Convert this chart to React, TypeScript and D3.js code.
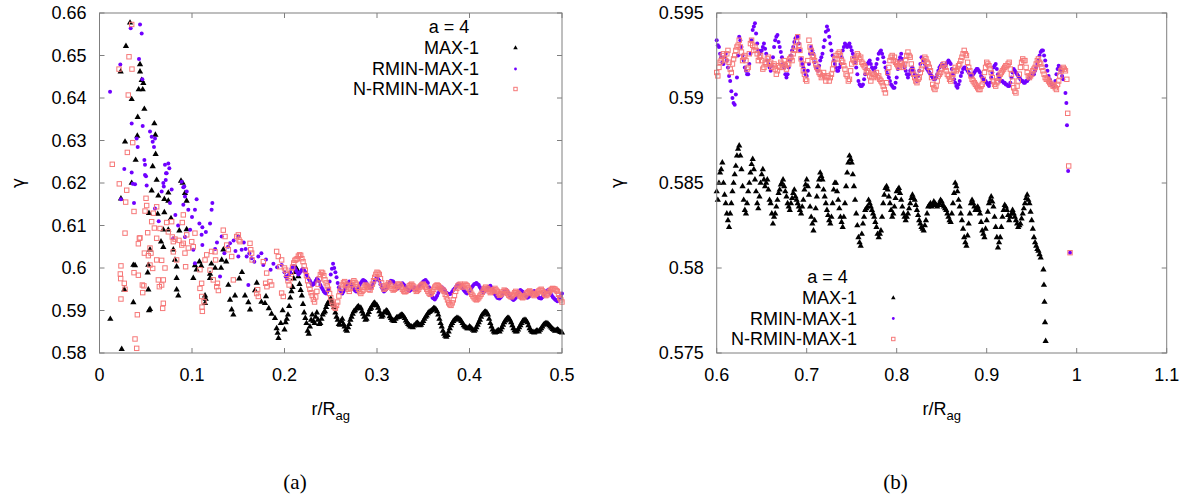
import React from "react";
import * as d3 from "d3";

type Pt = [number, number];

// ---------------- Panel (a) data ----------------
const xTicksA = [0, 0.1, 0.2, 0.3, 0.4, 0.5];
const yTicksA = [0.58, 0.59, 0.6, 0.61, 0.62, 0.63, 0.64, 0.65, 0.66];
const tailStartA = 0.2;
const tailStepA = 0.0025;

const max1AEarly: Pt[] = [
  [0.0117,0.5880],[0.0229,0.6462],[0.0232,0.6163],[0.0240,0.5809],[0.0268,0.5949],[0.0276,0.6297],[0.0286,0.6522],
  [0.0330,0.6577],[0.0348,0.6397],[0.0348,0.6200],[0.0366,0.6007],[0.0384,0.6006],[0.0366,0.5919],[0.0391,0.6254],
  [0.0409,0.6311],[0.0413,0.6355],[0.0424,0.6420],[0.0438,0.6479],[0.0438,0.6462],[0.0456,0.6442],[0.0467,0.6420],
  [0.0474,0.6435],[0.0485,0.6374],[0.0521,0.5989],[0.0528,0.6007],[0.0528,0.5949],[0.0535,0.5900],[0.0546,0.5903],
  [0.0546,0.6043],[0.0535,0.6129],[0.0564,0.6182],[0.0575,0.6239],[0.0593,0.6340],[0.0604,0.6313],[0.0607,0.6268],
  [0.0618,0.6207],[0.0629,0.6127],[0.0636,0.6170],[0.0665,0.6062],[0.0690,0.6049],[0.0690,0.6090],[0.0701,0.6162],
  [0.0701,0.6131],[0.0744,0.6158],[0.0744,0.6177],[0.0744,0.6090],[0.0773,0.6117],[0.0798,0.6043],[0.0816,0.6019],
  [0.0834,0.6003],[0.0834,0.5976],[0.0834,0.5949],[0.0852,0.5935],[0.0863,0.6088],[0.0881,0.6205],[0.0899,0.6200],
  [0.0924,0.6176],[0.0942,0.6158],[0.0942,0.6091],[0.1014,0.5976],[0.1032,0.6006],[0.1050,0.5996],[0.1080,0.6015],
  [0.1100,0.6005],[0.1141,0.5935],[0.1148,0.5927],[0.1141,0.5917],[0.1195,0.5976],[0.1195,0.5986],[0.1210,0.6010],
  [0.1250,0.6000],[0.1314,0.6000],[0.1321,0.6019],[0.1339,0.6043],[0.1370,0.6015],[0.1393,0.5960],[0.1411,0.5925],
  [0.1429,0.5902],[0.1447,0.5890],[0.1465,0.5935],[0.1510,0.5975],[0.1540,0.5990],[0.1573,0.5935],[0.1609,0.5919],
  [0.1627,0.5902],[0.1681,0.5947],[0.1700,0.5965],[0.1750,0.5920],[0.1789,0.5917],[0.1800,0.5933],[0.1830,0.5905],
  [0.1860,0.5892],[0.1897,0.5882],[0.1915,0.5858],[0.1926,0.5847],[0.1935,0.5835],[0.1960,0.5870],[0.1980,0.5900],
];
const max1ATail: number[] = [
  0.5855,0.5880,0.5910,0.5945,0.5975,0.6000,0.5980,0.5948,0.5915,0.5882,
  0.5852,0.5862,0.5890,0.5870,0.5895,0.5868,0.5880,0.5895,0.5908,0.5920,
  0.5928,0.5915,0.5895,0.5878,0.5866,0.5880,0.5862,0.5852,0.5868,0.5885,
  0.5898,0.5904,0.5910,0.5906,0.5892,0.5878,0.5890,0.5903,0.5912,0.5918,
  0.5912,0.5898,0.5885,0.5895,0.5900,0.5893,0.5882,0.5876,0.5880,0.5884,
  0.5888,0.5889,0.5882,0.5872,0.5865,0.5862,0.5864,0.5870,0.5868,0.5866,
  0.5875,0.5885,0.5893,0.5898,0.5902,0.5905,0.5898,0.5880,0.5862,0.5845,
  0.5838,0.5850,0.5865,0.5875,0.5880,0.5882,0.5878,0.5870,0.5862,0.5858,
  0.5862,0.5857,0.5852,0.5860,0.5872,0.5885,0.5893,0.5897,0.5890,0.5870,
  0.5855,0.5848,0.5852,0.5850,0.5860,0.5872,0.5880,0.5882,0.5872,0.5858,
  0.5850,0.5855,0.5865,0.5875,0.5878,0.5872,0.5858,0.5850,0.5848,0.5852,
  0.5850,0.5858,0.5866,0.5870,0.5868,0.5862,0.5856,0.5852,0.5855,0.5850,
  0.5848,
];
// second reading of the same dense band, half a step further along r
const max1ATailMid: number[] = [
  0.5872,0.5890,0.5930,0.5955,0.5990,0.5995,0.5962,0.5935,0.5895,0.5870,
  0.5845,0.5878,0.5875,0.5885,0.5878,0.5870,0.5890,0.5898,0.5915,0.5922,
  0.5920,0.5908,0.5885,0.5868,0.5875,0.5868,0.5855,0.5860,0.5878,0.5892,
  0.5900,0.5908,0.5905,0.5898,0.5885,0.5880,0.5896,0.5906,0.5916,0.5914,
  0.5906,0.5890,0.5888,0.5896,0.5898,0.5886,0.5878,0.5875,0.5883,0.5885,
  0.5890,0.5886,0.5876,0.5868,0.5862,0.5860,0.5866,0.5871,0.5865,0.5870,
  0.5880,0.5888,0.5896,0.5900,0.5905,0.5902,0.5890,0.5870,0.5852,0.5840,
  0.5842,0.5858,0.5870,0.5878,0.5882,0.5880,0.5875,0.5865,0.5860,0.5858,
  0.5860,0.5854,0.5855,0.5866,0.5878,0.5890,0.5896,0.5895,0.5880,0.5862,
  0.5850,0.5849,0.5853,0.5855,0.5866,0.5876,0.5882,0.5878,0.5865,0.5853,
  0.5851,0.5860,0.5870,0.5877,0.5876,0.5865,0.5853,0.5849,0.5850,0.5852,
  0.5854,0.5862,0.5868,0.5870,0.5865,0.5859,0.5854,0.5853,0.5853,0.5849,
];

const rminAEarly: Pt[] = [
  [0.0114,0.6415],[0.0225,0.6479],[0.0232,0.6162],[0.0268,0.6233],[0.0337,0.6564],[0.0348,0.6340],[0.0348,0.6225],
  [0.0359,0.6198],[0.0373,0.6153],[0.0384,0.6197],[0.0402,0.6305],[0.0413,0.6285],[0.0427,0.6492],[0.0438,0.6573],
  [0.0456,0.6552],[0.0463,0.6444],[0.0467,0.6334],[0.0485,0.6254],[0.0492,0.6243],[0.0492,0.6219],[0.0503,0.6216],
  [0.0510,0.6194],[0.0546,0.6321],[0.0564,0.6309],[0.0575,0.6297],[0.0589,0.6285],[0.0600,0.6305],[0.0600,0.6140],
  [0.0640,0.6110],[0.0672,0.6180],[0.0690,0.6200],[0.0695,0.6192],[0.0708,0.6243],[0.0716,0.6207],[0.0719,0.6223],
  [0.0726,0.6223],[0.0744,0.6246],[0.0755,0.6235],[0.0762,0.6153],[0.0780,0.6185],[0.0798,0.6070],[0.0820,0.6125],
  [0.0850,0.6100],[0.0889,0.6203],[0.0906,0.6190],[0.0906,0.6149],[0.0917,0.6192],[0.0924,0.6168],[0.0924,0.6073],
  [0.0943,0.6180],[0.0960,0.6137],[0.0980,0.6090],[0.1000,0.6120],[0.1014,0.6043],[0.1032,0.6137],[0.1032,0.6011],
  [0.1050,0.6162],[0.1080,0.6105],[0.1104,0.6078],[0.1112,0.6096],[0.1112,0.6054],[0.1150,0.6085],[0.1195,0.6105],
  [0.1212,0.6137],[0.1220,0.6153],[0.1250,0.6045],[0.1270,0.6060],[0.1303,0.5980],[0.1321,0.6074],[0.1350,0.6035],
  [0.1390,0.6050],[0.1411,0.6058],[0.1450,0.6065],[0.1470,0.6040],[0.1501,0.6074],[0.1501,0.6027],[0.1537,0.6043],
  [0.1560,0.6060],[0.1580,0.6045],[0.1591,0.6027],[0.1609,0.5960],[0.1620,0.6035],[0.1645,0.6023],[0.1674,0.6015],
  [0.1717,0.6027],[0.1750,0.6035],[0.1771,0.6007],[0.1800,0.6020],[0.1850,0.5996],[0.1880,0.6010],[0.1920,0.6002],
  [0.1969,0.6007],
];
const rminATail: number[] = [
  0.5990,0.5975,0.5985,0.5998,0.6005,0.5995,0.5985,0.5992,0.5998,0.5990,
  0.5978,0.5970,0.5960,0.5965,0.5975,0.5968,0.5955,0.5945,0.5940,0.5950,
  0.5985,0.6010,0.5990,0.5965,0.5948,0.5940,0.5950,0.5962,0.5968,0.5960,
  0.5950,0.5945,0.5955,0.5965,0.5972,0.5968,0.5960,0.5952,0.5958,0.5970,
  0.5978,0.5970,0.5955,0.5945,0.5950,0.5962,0.5970,0.5968,0.5960,0.5952,
  0.5958,0.5964,0.5958,0.5950,0.5946,0.5950,0.5955,0.5950,0.5955,0.5962,
  0.5968,0.5972,0.5965,0.5945,0.5930,0.5926,0.5935,0.5948,0.5955,0.5950,
  0.5942,0.5938,0.5940,0.5948,0.5955,0.5962,0.5960,0.5952,0.5945,0.5940,
  0.5945,0.5955,0.5962,0.5965,0.5960,0.5950,0.5942,0.5948,0.5955,0.5958,
  0.5950,0.5938,0.5930,0.5928,0.5935,0.5945,0.5948,0.5940,0.5930,0.5925,
  0.5930,0.5942,0.5948,0.5944,0.5936,0.5930,0.5934,0.5942,0.5946,0.5938,
  0.5930,0.5928,0.5935,0.5945,0.5948,0.5940,0.5932,0.5926,0.5922,0.5930,
  0.5940,
];
const rminATailMid: number[] = [
  0.5980,0.5982,0.5990,0.6002,0.6000,0.5990,0.5988,0.5996,0.5994,0.5984,
  0.5974,0.5965,0.5962,0.5970,0.5972,0.5960,0.5950,0.5942,0.5944,0.5968,
  0.5998,0.6000,0.5978,0.5955,0.5944,0.5945,0.5956,0.5965,0.5964,0.5955,
  0.5947,0.5950,0.5960,0.5969,0.5970,0.5964,0.5956,0.5955,0.5964,0.5974,
  0.5974,0.5962,0.5950,0.5947,0.5956,0.5966,0.5969,0.5964,0.5956,0.5955,
  0.5961,0.5961,0.5954,0.5948,0.5948,0.5952,0.5952,0.5952,0.5958,0.5965,
  0.5970,0.5968,0.5955,0.5937,0.5928,0.5930,0.5941,0.5951,0.5952,0.5946,
  0.5940,0.5939,0.5944,0.5951,0.5958,0.5961,0.5956,0.5948,0.5942,0.5942,
  0.5950,0.5958,0.5963,0.5962,0.5955,0.5946,0.5945,0.5951,0.5956,0.5954,
  0.5944,0.5934,0.5929,0.5931,0.5940,0.5946,0.5944,0.5935,0.5927,0.5927,
  0.5936,0.5945,0.5946,0.5940,0.5933,0.5932,0.5938,0.5944,0.5942,0.5934,
  0.5929,0.5931,0.5940,0.5946,0.5944,0.5936,0.5929,0.5924,0.5926,0.5935,
];

const nrminAEarly: Pt[] = [
  [0.0138,0.6244],[0.0211,0.6468],[0.0214,0.6198],[0.0225,0.5986],[0.0229,0.5975],[0.0232,0.6005],[0.0232,0.5927],
  [0.0268,0.5964],[0.0276,0.6082],[0.0276,0.5950],[0.0283,0.6155],[0.0294,0.6183],[0.0301,0.6272],[0.0311,0.6407],
  [0.0319,0.6497],[0.0348,0.6573],[0.0351,0.6468],[0.0359,0.6295],[0.0373,0.6133],[0.0373,0.5989],[0.0384,0.5833],
  [0.0402,0.5811],[0.0409,0.5890],[0.0420,0.5983],[0.0420,0.6057],[0.0431,0.6070],[0.0438,0.6071],[0.0463,0.5960],
  [0.0467,0.5942],[0.0480,0.5958],[0.0485,0.6035],[0.0492,0.6134],[0.0503,0.6164],[0.0510,0.6147],[0.0521,0.6083],
  [0.0528,0.6029],[0.0546,0.6047],[0.0546,0.6007],[0.0557,0.6035],[0.0564,0.6109],[0.0575,0.5999],[0.0582,0.6129],
  [0.0593,0.6094],[0.0618,0.6144],[0.0618,0.6070],[0.0618,0.6019],[0.0636,0.5972],[0.0647,0.5956],[0.0654,0.6093],
  [0.0672,0.6018],[0.0672,0.5960],[0.0683,0.5905],[0.0690,0.5917],[0.0690,0.5972],[0.0708,0.6000],[0.0726,0.6107],
  [0.0744,0.6085],[0.0780,0.6109],[0.0787,0.6073],[0.0798,0.6062],[0.0798,0.6038],[0.0816,0.6068],[0.0834,0.6019],
  [0.0859,0.6065],[0.0889,0.6054],[0.0895,0.6107],[0.0906,0.6125],[0.0906,0.6058],[0.0924,0.6035],[0.0931,0.6003],
  [0.0943,0.6078],[0.0960,0.6047],[0.0997,0.6062],[0.1014,0.6050],[0.1032,0.6082],[0.1086,0.5996],[0.1086,0.5952],
  [0.1104,0.5964],[0.1105,0.5933],[0.1108,0.5908],[0.1112,0.5898],[0.1130,0.5921],[0.1141,0.6019],[0.1159,0.6031],
  [0.1195,0.5995],[0.1212,0.6039],[0.1230,0.5972],[0.1249,0.6038],[0.1255,0.6019],[0.1267,0.5956],[0.1275,0.5964],
  [0.1285,0.5947],[0.1338,0.6089],[0.1357,0.6074],[0.1375,0.6054],[0.1393,0.6043],[0.1429,0.6027],[0.1447,0.5972],
  [0.1483,0.6074],[0.1501,0.6078],[0.1508,0.6066],[0.1519,0.6062],[0.1627,0.6058],[0.1635,0.6043],[0.1645,0.6035],
  [0.1650,0.6019],[0.1699,0.5940],[0.1710,0.5949],[0.1717,0.5933],[0.1771,0.6015],[0.1796,0.5964],[0.1807,0.5988],
  [0.1810,0.5956],[0.1843,0.5968],[0.1861,0.5960],[0.1915,0.6039],[0.1933,0.6027],[0.1951,0.6003],[0.1969,0.6019],
  [0.1969,0.5941],[0.1987,0.5933],
];
const nrminATail: number[] = [
  0.6000,0.5985,0.5960,0.5990,0.6012,0.6020,0.6028,0.6030,0.6015,0.5995,
  0.5970,0.5950,0.5935,0.5920,0.5945,0.5975,0.5990,0.5982,0.5965,0.5950,
  0.5930,0.5915,0.5905,0.5920,0.5945,0.5960,0.5968,0.5958,0.5945,0.5960,
  0.5970,0.5962,0.5950,0.5940,0.5948,0.5960,0.5955,0.5948,0.5962,0.5978,
  0.5990,0.5985,0.5965,0.5950,0.5955,0.5965,0.5958,0.5948,0.5952,0.5962,
  0.5960,0.5950,0.5944,0.5948,0.5958,0.5962,0.5955,0.5945,0.5950,0.5958,
  0.5962,0.5955,0.5945,0.5938,0.5945,0.5955,0.5960,0.5955,0.5950,0.5945,
  0.5932,0.5918,0.5912,0.5925,0.5945,0.5958,0.5962,0.5955,0.5962,0.5958,
  0.5948,0.5938,0.5930,0.5925,0.5930,0.5938,0.5948,0.5955,0.5950,0.5942,
  0.5946,0.5952,0.5945,0.5936,0.5940,0.5948,0.5944,0.5936,0.5932,0.5938,
  0.5945,0.5940,0.5934,0.5930,0.5935,0.5942,0.5946,0.5940,0.5935,0.5940,
  0.5946,0.5950,0.5942,0.5935,0.5940,0.5948,0.5952,0.5950,0.5945,0.5930,
  0.5920,
];
const nrminATailMid: number[] = [
  0.5995,0.5970,0.5975,0.6002,0.6018,0.6022,0.6031,0.6022,0.6005,0.5982,
  0.5960,0.5942,0.5926,0.5932,0.5962,0.5984,0.5988,0.5972,0.5958,0.5940,
  0.5922,0.5908,0.5912,0.5934,0.5952,0.5965,0.5962,0.5950,0.5952,0.5966,
  0.5966,0.5955,0.5944,0.5945,0.5955,0.5958,0.5950,0.5955,0.5970,0.5985,
  0.5988,0.5975,0.5958,0.5952,0.5960,0.5962,0.5952,0.5950,0.5957,0.5962,
  0.5955,0.5946,0.5945,0.5953,0.5960,0.5958,0.5950,0.5947,0.5955,0.5961,
  0.5958,0.5950,0.5941,0.5941,0.5950,0.5958,0.5958,0.5952,0.5948,0.5938,
  0.5925,0.5914,0.5918,0.5935,0.5952,0.5960,0.5958,0.5958,0.5960,0.5953,
  0.5943,0.5934,0.5927,0.5927,0.5934,0.5943,0.5952,0.5952,0.5946,0.5944,
  0.5949,0.5948,0.5940,0.5938,0.5944,0.5946,0.5940,0.5934,0.5935,0.5942,
  0.5942,0.5937,0.5932,0.5932,0.5939,0.5944,0.5943,0.5937,0.5938,0.5943,
  0.5948,0.5946,0.5938,0.5937,0.5944,0.5950,0.5951,0.5947,0.5938,0.5925,
];

// ---------------- Panel (b) data ----------------
const xTicksB = [0.6, 0.7, 0.8, 0.9, 1, 1.1];
const yTicksB = [0.575, 0.58, 0.585, 0.59, 0.595];
const gridStartB = 0.6;
const gridStepB = 0.0025;

const max1BGrid: number[] = [
  0.5845,0.5850,0.5858,0.5850, 0.5838,0.5828,0.5832,0.5845, 0.5855,0.5866,0.5872,0.5858,
  0.5840,0.5832,0.5845,0.5856, 0.5864,0.5852,0.5838,0.5842, 0.5855,0.5852,0.5850,0.5846,
  0.5838,0.5826,0.5832,0.5840, 0.5846,0.5850,0.5848,0.5842, 0.5836,0.5838,0.5844,0.5842,
  0.5838,0.5834,0.5836,0.5846, 0.5852,0.5843,0.5830,0.5822, 0.5835,0.5848,0.5856,0.5852,
  0.5842,0.5834,0.5828,0.5830, 0.5846,0.5850,0.5840,0.5830, 0.5824,0.5838,0.5856,0.5866,
  0.5862,0.5848,0.5832,0.5818, 0.5813,0.5826,0.5834,0.5836, 0.5838,0.5834,0.5830,0.5824,
  0.5818,0.5822,0.5838,0.5847, 0.5846,0.5838,0.5830,0.5836, 0.5845,0.5847,0.5840,0.5832,
  0.5828,0.5832,0.5838,0.5843, 0.5840,0.5834,0.5828,0.5824, 0.5822,0.5828,0.5836,0.5838,
  0.5837,0.5838,0.5836,0.5838, 0.5839,0.5836,0.5834,0.5830, 0.5827,0.5838,0.5850,0.5845,
  0.5836,0.5828,0.5818,0.5813, 0.5826,0.5838,0.5838,0.5834, 0.5836,0.5832,0.5822,0.5818,
  0.5828,0.5838,0.5842,0.5836, 0.5824,0.5812,0.5818,0.5830, 0.5837,0.5834,0.5828,0.5832,
  0.5832,0.5828,0.5824,0.5826, 0.5832,0.5838,0.5843,0.5838, 0.5828,0.5818,0.5813,0.5810,
  0.5806,
];
const max1BGridMid: number[] = [
  0.5840,0.5856,0.5862,0.5843,0.5832,0.5824,0.5838,0.5850,0.5860,0.5870,0.5866,0.5848,
  0.5834,0.5838,0.5850,0.5861,0.5858,0.5845,0.5835,0.5850,0.5858,0.5848,0.5852,0.5840,
  0.5832,0.5830,0.5836,0.5844,0.5849,0.5852,0.5845,0.5838,0.5834,0.5841,0.5846,0.5840,
  0.5836,0.5832,0.5840,0.5849,0.5848,0.5836,0.5826,0.5828,0.5842,0.5852,0.5854,0.5846,
  0.5838,0.5831,0.5826,0.5838,0.5850,0.5845,0.5835,0.5827,0.5830,0.5848,0.5862,0.5864,
  0.5855,0.5840,0.5825,0.5815,0.5820,0.5830,0.5835,0.5840,0.5836,0.5832,0.5827,0.5820,
  0.5820,0.5830,0.5843,0.5848,0.5842,0.5834,0.5832,0.5841,0.5846,0.5844,0.5836,0.5830,
  0.5830,0.5835,0.5841,0.5841,0.5837,0.5831,0.5826,0.5823,0.5825,0.5832,0.5837,0.5836,
  0.5839,0.5837,0.5837,0.5840,0.5837,0.5835,0.5832,0.5828,0.5832,0.5844,0.5848,0.5840,
  0.5832,0.5823,0.5815,0.5819,0.5832,0.5840,0.5836,0.5835,0.5834,0.5827,0.5820,0.5823,
  0.5833,0.5840,0.5839,0.5830,0.5818,0.5815,0.5824,0.5834,0.5836,0.5831,0.5830,0.5834,
  0.5830,0.5826,0.5825,0.5829,0.5835,0.5841,0.5840,0.5833,0.5823,0.5815,0.5811,0.5808,
];
const max1BDrop: Pt[] = [
  [0.9630,0.5799],[0.9636,0.5790],[0.9642,0.5780],[0.9648,0.5768],[0.9655,0.5757],
];

const rminBGrid: number[] = [
  0.5934,0.5930,0.5924,0.5920, 0.5926,0.5918,0.5910,0.5900, 0.5896,0.5912,0.5936,0.5930,
  0.5922,0.5916,0.5914,0.5926, 0.5940,0.5944,0.5932,0.5926, 0.5928,0.5932,0.5926,0.5920,
  0.5916,0.5924,0.5934,0.5937, 0.5930,0.5924,0.5918,0.5912, 0.5918,0.5925,0.5930,0.5935,
  0.5936,0.5928,0.5920,0.5916, 0.5913,0.5920,0.5930,0.5926, 0.5918,0.5916,0.5922,0.5926,
  0.5934,0.5942,0.5936,0.5928, 0.5922,0.5918,0.5916,0.5920, 0.5928,0.5932,0.5930,0.5932,
  0.5928,0.5924,0.5918,0.5910, 0.5907,0.5908,0.5914,0.5920, 0.5922,0.5918,0.5916,0.5920,
  0.5926,0.5928,0.5924,0.5918, 0.5914,0.5910,0.5907,0.5906, 0.5912,0.5922,0.5926,0.5920,
  0.5916,0.5912,0.5916,0.5918, 0.5914,0.5910,0.5916,0.5924, 0.5922,0.5918,0.5916,0.5914,
  0.5912,0.5911,0.5914,0.5918, 0.5920,0.5918,0.5920,0.5922, 0.5920,0.5914,0.5909,0.5906,
  0.5910,0.5915,0.5918,0.5917, 0.5915,0.5913,0.5914,0.5916, 0.5917,0.5915,0.5912,0.5910,
  0.5909,0.5907,0.5912,0.5918, 0.5920,0.5914,0.5910,0.5910, 0.5909,0.5908,0.5907,0.5912,
  0.5917,0.5915,0.5913,0.5911, 0.5910,0.5909,0.5910,0.5912, 0.5914,0.5914,0.5918,0.5922,
  0.5927,0.5928,0.5922,0.5916, 0.5911,0.5908,0.5907,0.5914, 0.5919,0.5916,0.5911,
];
const rminBGridMid: number[] = [
  0.5931,0.5926,0.5921,0.5924,0.5922,0.5913,0.5904,0.5897,0.5902,0.5925,0.5934,
  0.5925,0.5918,0.5914,0.5920,0.5934,0.5942,0.5938,0.5928,0.5927,0.5930,0.5929,
  0.5922,0.5918,0.5919,0.5930,0.5936,0.5933,0.5927,0.5920,0.5914,0.5914,0.5922,
  0.5928,0.5933,0.5936,0.5932,0.5923,0.5918,0.5914,0.5916,0.5926,0.5928,0.5921,
  0.5917,0.5919,0.5924,0.5930,0.5939,0.5940,0.5932,0.5925,0.5920,0.5916,0.5918,
  0.5924,0.5930,0.5931,0.5931,0.5930,0.5926,0.5921,0.5914,0.5908,0.5907,0.5911,
  0.5917,0.5921,0.5920,0.5917,0.5918,0.5923,0.5927,0.5926,0.5921,0.5916,0.5912,
  0.5908,0.5906,0.5909,0.5917,0.5924,0.5923,0.5918,0.5914,0.5914,0.5917,0.5916,
  0.5912,0.5913,0.5920,0.5923,0.5920,0.5917,0.5915,0.5913,0.5911,0.5912,0.5916,
  0.5919,0.5919,0.5919,0.5921,0.5921,0.5917,0.5911,0.5907,0.5908,0.5913,0.5917,
  0.5918,0.5916,0.5914,0.5913,0.5915,0.5917,0.5916,0.5913,0.5911,0.5910,0.5908,
  0.5909,0.5915,0.5919,0.5917,0.5912,0.5910,0.5909,0.5908,0.5907,0.5909,0.5915,
  0.5916,0.5914,0.5912,0.5910,0.5909,0.5910,0.5911,0.5913,0.5914,0.5916,0.5920,
  0.5925,0.5928,0.5925,0.5919,0.5913,0.5909,0.5907,0.5910,0.5917,0.5918,0.5913,
];
const rminBDrop: Pt[] = [
  [0.9875,0.5903],[0.9885,0.5897],[0.9892,0.5884],[0.9905,0.5857],[0.9926,0.5809],
];

const nrminBGrid: number[] = [
  0.5915,0.5918,0.5922,0.5926, 0.5922,0.5928,0.5917,0.5920, 0.5925,0.5930,0.5934,0.5927,
  0.5924,0.5922,0.5918,0.5932, 0.5931,0.5930,0.5926,0.5924, 0.5922,0.5918,0.5920,0.5924,
  0.5921,0.5919,0.5917,0.5916, 0.5918,0.5920,0.5922,0.5917, 0.5920,0.5924,0.5926,0.5930,
  0.5936,0.5928,0.5920,0.5914, 0.5910,0.5934,0.5928,0.5924, 0.5920,0.5917,0.5914,0.5913,
  0.5913,0.5912,0.5910,0.5914, 0.5920,0.5925,0.5926,0.5925, 0.5921,0.5917,0.5913,0.5911,
  0.5920,0.5922,0.5924,0.5925, 0.5924,0.5920,0.5918,0.5916, 0.5913,0.5912,0.5914,0.5915,
  0.5913,0.5910,0.5907,0.5903, 0.5915,0.5922,0.5925,0.5924, 0.5920,0.5918,0.5921,0.5918,
  0.5922,0.5927,0.5924,0.5916, 0.5912,0.5909,0.5912,0.5917, 0.5922,0.5923,0.5920,0.5916,
  0.5908,0.5905,0.5910,0.5914, 0.5917,0.5920,0.5916,0.5913, 0.5910,0.5914,0.5918,0.5917,
  0.5920,0.5924,0.5928,0.5925, 0.5918,0.5913,0.5910,0.5908, 0.5906,0.5905,0.5908,0.5915,
  0.5921,0.5919,0.5915,0.5910, 0.5907,0.5910,0.5914,0.5916, 0.5918,0.5919,0.5921,0.5914,
  0.5906,0.5903,0.5910,0.5918, 0.5923,0.5922,0.5915,0.5912, 0.5914,0.5917,0.5920,0.5923,
  0.5920,0.5916,0.5912,0.5911, 0.5909,0.5908,0.5907,0.5905, 0.5910,0.5916,0.5918,0.5916,
];
const nrminBGridMid: number[] = [
  0.5913,0.5921,0.5925,0.5923,0.5926,0.5921,0.5915,0.5923,0.5928,0.5931,0.5930,
  0.5922,0.5925,0.5917,0.5926,0.5934,0.5928,0.5928,0.5922,0.5925,0.5917,0.5921,
  0.5923,0.5920,0.5918,0.5920,0.5914,0.5919,0.5921,0.5918,0.5919,0.5920,0.5923,
  0.5922,0.5928,0.5933,0.5931,0.5923,0.5916,0.5911,0.5922,0.5930,0.5925,0.5922,
  0.5918,0.5915,0.5912,0.5915,0.5910,0.5913,0.5912,0.5917,0.5923,0.5923,0.5927,
  0.5922,0.5919,0.5914,0.5910,0.5916,0.5923,0.5921,0.5926,0.5923,0.5921,0.5919,
  0.5915,0.5915,0.5910,0.5914,0.5913,0.5912,0.5911,0.5909,0.5905,0.5909,0.5918,
  0.5924,0.5922,0.5921,0.5919,0.5920,0.5919,0.5920,0.5925,0.5925,0.5920,0.5914,
  0.5910,0.5911,0.5915,0.5919,0.5924,0.5921,0.5918,0.5912,0.5906,0.5907,0.5913,
  0.5915,0.5919,0.5918,0.5914,0.5911,0.5912,0.5916,0.5916,0.5919,0.5922,0.5926,
  0.5926,0.5921,0.5916,0.5911,0.5909,0.5907,0.5905,0.5907,0.5911,0.5918,0.5920,
  0.5917,0.5912,0.5908,0.5909,0.5912,0.5915,0.5917,0.5919,0.5920,0.5917,0.5910,
  0.5904,0.5907,0.5914,0.5921,0.5922,0.5918,0.5913,0.5913,0.5916,0.5918,0.5922,
  0.5921,0.5918,0.5914,0.5911,0.5910,0.5908,0.5907,0.5906,0.5908,0.5913,0.5917,
  0.5917,
];
const nrminBDrop: Pt[] = [
  [0.9890,0.5911],[0.9900,0.5891],[0.9911,0.5860],[0.9926,0.5809],
];

const seriesNames = ["MAX-1", "RMIN-MAX-1", "N-RMIN-MAX-1"];
const legendTitle = "a = 4";

// ---------------- helpers ----------------
function onGrid(start: number, step: number, ys: number[]): Pt[] {
  return ys.map((v, i) => [start + i * step, v] as Pt);
}

const FONT = "'Liberation Sans', Arial, sans-serif";
const SERIF = "'Liberation Serif', 'Times New Roman', serif";
const BORDER = "#7f7f7f";
const C_MAX = "#000000";
const C_RMIN = "#7000ff";
const C_NRMIN = "#f67878";

const triPlot = d3.symbol().type(d3.symbolTriangle).size(17)() as string;
const triKey = d3.symbol().type(d3.symbolTriangle).size(9)() as string;

function Marker({ kind, x, y, small }: { kind: number; x: number; y: number; small?: boolean }) {
  if (kind === 0) {
    return <path d={small ? triKey : triPlot} transform={`translate(${x},${y})`} fill={C_MAX} />;
  }
  if (kind === 1) {
    return <circle cx={x} cy={y} r={small ? 1.4 : 2} fill={C_RMIN} />;
  }
  const s = small ? 3.4 : 4.4;
  return (
    <rect x={x - s / 2} y={y - s / 2} width={s} height={s} fill="none" stroke={C_NRMIN} strokeWidth={1} />
  );
}

interface PanelCfg {
  left: number; right: number; top: number; bottom: number;
  xDomain: [number, number]; yDomain: [number, number];
  xTicks: number[]; yTicks: number[];
  series: Pt[][];
  legend: { titleX: number; titleY: number; textRight: number; rows: number[]; markerX: number };
  ylabelX: number;
  caption: string; captionX: number;
}

function Panel({ cfg }: { cfg: PanelCfg }) {
  const x = d3.scaleLinear().domain(cfg.xDomain).range([cfg.left, cfg.right]);
  const y = d3.scaleLinear().domain(cfg.yDomain).range([cfg.bottom, cfg.top]);
  const fmt = d3.format("~g");
  const tl = 5;
  const cx = (cfg.left + cfg.right) / 2;
  const cy = (cfg.top + cfg.bottom) / 2;
  return (
    <g>
      {cfg.series.map((pts, k) => (
        <g key={k}>
          {pts.map((p, i) => (
            <Marker key={i} kind={k} x={x(p[0])} y={y(p[1])} />
          ))}
        </g>
      ))}
      <rect x={cfg.left} y={cfg.top} width={cfg.right - cfg.left} height={cfg.bottom - cfg.top}
        fill="none" stroke={BORDER} strokeWidth={1} />
      {cfg.xTicks.map((t, i) => (
        <g key={"xt" + i}>
          <line x1={x(t)} x2={x(t)} y1={cfg.bottom} y2={cfg.bottom - tl} stroke={BORDER} />
          <line x1={x(t)} x2={x(t)} y1={cfg.top} y2={cfg.top + tl} stroke={BORDER} />
          <text x={x(t)} y={cfg.bottom + 22} textAnchor="middle" dominantBaseline="central"
            fontFamily={FONT} fontSize={18} fill="#000">{fmt(t)}</text>
        </g>
      ))}
      {cfg.yTicks.map((t, i) => (
        <g key={"yt" + i}>
          <line x1={cfg.left} x2={cfg.left + tl} y1={y(t)} y2={y(t)} stroke={BORDER} />
          <line x1={cfg.right} x2={cfg.right - tl} y1={y(t)} y2={y(t)} stroke={BORDER} />
          <text x={cfg.left - 13} y={y(t)} textAnchor="end" dominantBaseline="central"
            fontFamily={FONT} fontSize={18} fill="#000">{fmt(t)}</text>
        </g>
      ))}
      <text transform={`translate(${cfg.ylabelX},${cy}) rotate(-90)`} textAnchor="middle"
        dominantBaseline="central" fontFamily="'DejaVu Sans', sans-serif" fontSize={17} fill="#000">γ</text>
      <text x={cx} y={415} textAnchor="middle" fontFamily={FONT} fontSize={18} fill="#000">
        r/R<tspan fontSize={13} dy={5}>ag</tspan>
      </text>
      <text x={cfg.legend.titleX} y={cfg.legend.titleY} textAnchor="middle" dominantBaseline="central"
        fontFamily={FONT} fontSize={18} fill="#000">{legendTitle}</text>
      {seriesNames.map((n, k) => (
        <g key={"lg" + k}>
          <text x={cfg.legend.textRight} y={cfg.legend.rows[k]} textAnchor="end" dominantBaseline="central"
            fontFamily={FONT} fontSize={18} fill="#000">{n}</text>
          <Marker kind={k} x={cfg.legend.markerX} y={cfg.legend.rows[k]} small />
        </g>
      ))}
      <text x={cfg.captionX} y={489} textAnchor="middle" fontFamily={SERIF} fontSize={21} fill="#000">
        {cfg.caption}
      </text>
    </g>
  );
}

export default function App() {
  const half = tailStepA / 2;
  const halfB = gridStepB / 2;
  const panelA: PanelCfg = {
    left: 99.5, right: 562, top: 13, bottom: 353,
    xDomain: [0, 0.5], yDomain: [0.58, 0.66],
    xTicks: xTicksA, yTicks: yTicksA,
    series: [
      [...max1AEarly, ...onGrid(tailStartA, tailStepA, max1ATail), ...onGrid(tailStartA + half, tailStepA, max1ATailMid)],
      [...rminAEarly, ...onGrid(tailStartA, tailStepA, rminATail), ...onGrid(tailStartA + half, tailStepA, rminATailMid)],
      [...nrminAEarly, ...onGrid(tailStartA, tailStepA, nrminATail), ...onGrid(tailStartA + half, tailStepA, nrminATailMid)],
    ],
    legend: { titleX: 449, titleY: 27, textRight: 479, rows: [48, 69, 89], markerX: 515.5 },
    ylabelX: 18,
    caption: "(a)", captionX: 295,
  };
  const panelB: PanelCfg = {
    left: 716.7, right: 1166.7, top: 13, bottom: 353,
    xDomain: [0.6, 1.1], yDomain: [0.575, 0.595],
    xTicks: xTicksB, yTicks: yTicksB,
    series: [
      [...onGrid(gridStartB, gridStepB, max1BGrid), ...onGrid(gridStartB + halfB, gridStepB, max1BGridMid), ...max1BDrop],
      [...onGrid(gridStartB, gridStepB, rminBGrid), ...onGrid(gridStartB + halfB, gridStepB, rminBGridMid), ...rminBDrop],
      [...onGrid(gridStartB, gridStepB, nrminBGrid), ...onGrid(gridStartB + halfB, gridStepB, nrminBGridMid), ...nrminBDrop],
    ],
    legend: { titleX: 827.5, titleY: 277, textRight: 857, rows: [298, 318.5, 339], markerX: 893.3 },
    ylabelX: 617,
    caption: "(b)", captionX: 895.5,
  };
  return (
    <svg width={1191} height={500} style={{ position: "absolute", left: 0, top: 0, background: "#fff" }}>
      <rect x={0} y={0} width={1191} height={500} fill="#fff" />
      <Panel cfg={panelA} />
      <Panel cfg={panelB} />
    </svg>
  );
}
